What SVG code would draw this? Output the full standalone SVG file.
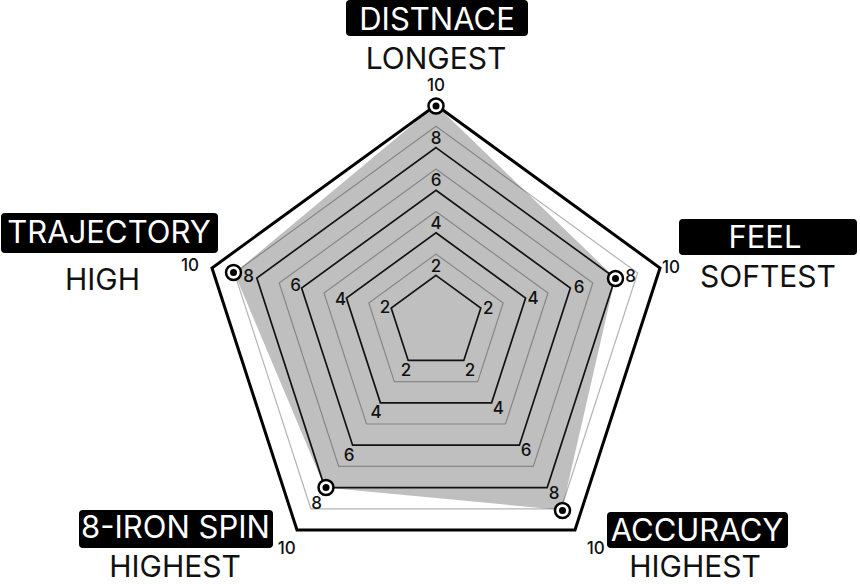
<svg xmlns="http://www.w3.org/2000/svg" width="860" height="584" viewBox="0 0 860 584">
<style>
.g{fill:none;stroke:#b4b4b4;stroke-width:1.2}
.b{fill:none;stroke:#1a1a1a;stroke-width:1.7}
.o{fill:none;stroke:#000;stroke-width:3;stroke-linejoin:miter}
.n{font-family:Inter,"Noto Sans","Liberation Sans",sans-serif;font-size:17px;font-weight:500;fill:#111;text-anchor:middle}
.t{font-family:Inter,"Noto Sans","Liberation Sans",sans-serif;font-size:30px;text-anchor:middle}
.hd{fill:#fff;font-size:31px}
.sb{fill:#111}
.box{fill:#000}
.mk{fill:#fff;stroke:#000;stroke-width:2.5}
.dot{fill:#000}
</style>
<rect width="860" height="584" fill="#fff"/>
<g id="grid">
<polygon class="g" points="436,254.1 503.2,303 477.7,381.6 394.3,381.6 368.8,303"/>
<polygon class="g" points="436,211.5 548,293 505.5,424 366.5,424 324,293"/>
<polygon class="g" points="436,168.9 592.8,283 533.3,466.4 338.7,466.4 279.2,283"/>
<polygon class="g" points="436,126.3 637.6,273 561.1,508.8 310.9,508.8 234.4,273"/>
<polygon class="b" points="436,275.4 480.8,308 463.8,360.4 408.2,360.4 391.2,308"/>
<polygon class="b" points="436,232.8 525.6,298 491.6,402.8 380.4,402.8 346.4,298"/>
<polygon class="b" points="436,190.2 570.4,288 519.4,445.2 352.6,445.2 301.6,288"/>
<polygon class="b" points="436,147.6 615.2,278 547.2,487.6 324.8,487.6 256.8,278"/>
<polygon class="o" points="436,105 660,268 575,530 297,530 212,268"/>
</g>
<g id="data">
<polygon points="436,105 615.2,278 562,510 324.8,487.6 234.4,273" fill="#000" fill-opacity="0.25"/>
</g>
<g id="markers">
<circle class="mk" cx="436" cy="106" r="7.5"/><circle class="dot" cx="436" cy="106" r="3.5"/>
<circle class="mk" cx="615.5" cy="278.5" r="7.5"/><circle class="dot" cx="615.5" cy="278.5" r="3.5"/>
<circle class="mk" cx="562.5" cy="510.5" r="7.5"/><circle class="dot" cx="562.5" cy="510.5" r="3.5"/>
<circle class="mk" cx="326" cy="487.5" r="7.5"/><circle class="dot" cx="326" cy="487.5" r="3.5"/>
<circle class="mk" cx="233.5" cy="272.5" r="7.5"/><circle class="dot" cx="233.5" cy="272.5" r="3.5"/>
</g>
<g id="scale-labels">
<text class="n" x="436" y="91">10</text>
<text class="n" x="436" y="144">8</text>
<text class="n" x="436" y="186">6</text>
<text class="n" x="436" y="229">4</text>
<text class="n" x="436" y="272">2</text>
<text class="n" x="190" y="271">10</text>
<text class="n" x="248.5" y="282">8</text>
<text class="n" x="295.7" y="291">6</text>
<text class="n" x="340.7" y="305">4</text>
<text class="n" x="385" y="312.5">2</text>
<text class="n" x="671" y="273">10</text>
<text class="n" x="630.7" y="282">8</text>
<text class="n" x="579" y="292.5">6</text>
<text class="n" x="533" y="303.5">4</text>
<text class="n" x="488.3" y="314">2</text>
<text class="n" x="595.7" y="554">10</text>
<text class="n" x="554" y="499">8</text>
<text class="n" x="526" y="456">6</text>
<text class="n" x="498.3" y="414">4</text>
<text class="n" x="470" y="376">2</text>
<text class="n" x="286.7" y="554">10</text>
<text class="n" x="316.7" y="509">8</text>
<text class="n" x="349" y="461">6</text>
<text class="n" x="376" y="417.5">4</text>
<text class="n" x="406" y="376">2</text>
</g>
<g id="cat-distance">
<rect class="box" x="346" y="0" width="182" height="36" rx="4"/>
<text class="t hd" x="437" y="30">DISTNACE</text>
<text class="t sb" x="436" y="69">LONGEST</text>
</g>
<g id="cat-trajectory">
<rect class="box" x="1" y="213" width="217" height="40" rx="4"/>
<text class="t hd" x="109" y="243">TRAJECTORY</text>
<text class="t sb" x="102.5" y="290">HIGH</text>
</g>
<g id="cat-feel">
<rect class="box" x="679" y="219" width="178" height="36" rx="4"/>
<text class="t hd" x="765" y="248">FEEL</text>
<text class="t sb" x="768" y="287">SOFTEST</text>
</g>
<g id="cat-spin">
<rect class="box" x="79" y="510" width="194" height="38" rx="4"/>
<text class="t hd" x="175.5" y="538">8-IRON SPIN</text>
<text class="t sb" x="175" y="577">HIGHEST</text>
</g>
<g id="cat-accuracy">
<rect class="box" x="607" y="512" width="181" height="36" rx="4"/>
<text class="t hd" x="697" y="541">ACCURACY</text>
<text class="t sb" x="695" y="577">HIGHEST</text>
</g>
</svg>
